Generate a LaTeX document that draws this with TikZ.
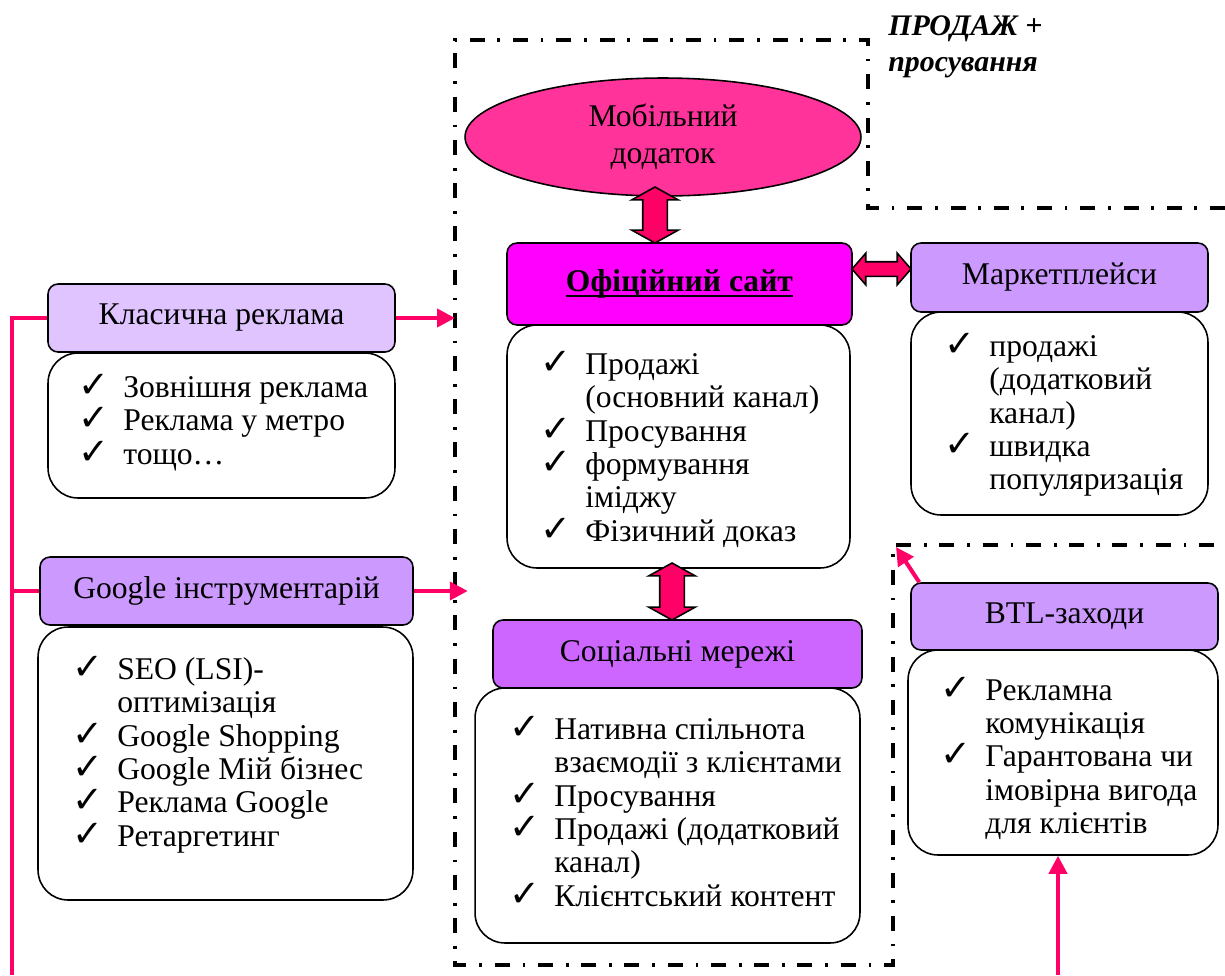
\documentclass[tikz,border=0pt]{standalone}
\usepackage{fontspec}
\setmainfont{Liberation Serif}
\newfontfamily\symf{DejaVu Sans}
\usetikzlibrary{arrows.meta,shapes.geometric,shapes.arrows}

\definecolor{clsFill}{RGB}{224,196,255}
\definecolor{lilacFill}{RGB}{204,153,255}
\definecolor{socFill}{RGB}{204,102,255}
\definecolor{siteFill}{RGB}{255,0,255}
\definecolor{appFill}{RGB}{255,51,153}
\definecolor{linkPink}{RGB}{255,0,102}

\newcommand{\ck}{\smash{\symf\fontsize{21}{21}\selectfont ✓}}
\newcommand{\itm}[1]{\makebox[0.9cm][l]{\ck}#1}
\newcommand{\nxt}[1]{\hspace*{0.9cm}#1}
\newsavebox{\ulbox}
\newcommand{\thickul}[1]{\sbox{\ulbox}{#1}\rlap{\rule[-3.2pt]{\wd\ulbox}{1.3pt}}\usebox{\ulbox}}

\tikzset{
  hdr/.style={draw, line width=0.9pt, rounded corners=0.2cm, inner sep=0pt,
    font=\fontsize{18}{21}\selectfont},
  body/.style={draw, fill=white, line width=0.9pt, rounded corners=0.6cm, inner sep=0pt},
  lst/.style={anchor=north west, align=left, inner sep=0pt, font=\fontsize{18}{19}\selectfont},
  link/.style={draw=linkPink, line width=2.3pt, -{Triangle[length=0.36cm,width=0.36cm]}},
  bus/.style={draw=linkPink, line width=2.3pt},
  fatarrow/.style={double arrow, draw, line width=0.9pt, fill=linkPink, inner xsep=0pt},
  zone/.style={line width=2pt, dash pattern=on 0.3cm off 0.26cm on 0.055cm off 0.25cm}
}

\begin{document}
\begin{tikzpicture}[x=0.02cm, y=-0.02cm]
    \useasboundingbox (0,0) rectangle (1225,975);

    % dash-dot zones
    \draw[zone] (1225,208) -- (868,208) -- (868,40) -- (455,40) -- (455,965)
      -- (893,965) -- (893,545) -- (1225,545);
    \node[anchor=north west, align=left, inner sep=0pt,
      font=\bfseries\itshape\fontsize{17}{20.5}\selectfont] (zoneLbl) at (888,15)
      {ПРОДАЖ +\\просування};

    % centre column
    \node[ellipse, draw, line width=0.9pt, fill=appFill, inner sep=0pt,
      minimum width=7.92cm, minimum height=2.36cm, align=center,
      font=\fontsize{18}{21}\selectfont] (app) at (663,137) {Мобільний\\додаток};

    \node[body, minimum width=6.86cm, minimum height=4.86cm] (siteBody) at (678.5,446.5) {};
    \node[hdr, fill=siteFill, minimum width=6.9cm, minimum height=1.64cm] (site) at (679.5,284)
      {\bfseries\thickul{Офіційний сайт}};
    \node[lst] (siteList) at (540,353)
      {\itm{Продажі}\\ \nxt{(основний канал)}\\ \itm{Просування}\\ \itm{формування}\\
       \nxt{іміджу}\\ \itm{Фізичний доказ}};

    \node[body, minimum width=7.7cm, minimum height=5.1cm] (socBody) at (667.5,815.5) {};
    \node[hdr, fill=socFill, minimum width=7.38cm, minimum height=1.36cm] (soc) at (677.5,654)
      {Соціальні мережі};
    \node[lst] (socList) at (509,718)
      {\itm{Нативна спільнота}\\ \nxt{взаємодії з клієнтами}\\ \itm{Просування}\\
       \itm{Продажі (додатковий}\\ \nxt{канал)}\\ \itm{Клієнтський контент}};

    % left column
    \node[body, minimum width=6.94cm, minimum height=2.9cm] (clsBody) at (221.5,425.5) {};
    \node[hdr, fill=clsFill, minimum width=6.94cm, minimum height=1.36cm] (cls) at (221.5,318)
      {Класична реклама};
    \node[lst] (clsList) at (78,376)
      {\itm{Зовнішня реклама}\\ \itm{Реклама у метро}\\ \itm{тощо…}};

    \node[body, minimum width=7.5cm, minimum height=5.46cm] (googBody) at (225.5,763.5) {};
    \node[hdr, fill=lilacFill, minimum width=7.46cm, minimum height=1.36cm] (goog) at (226.5,591)
      {Google інструментарій};
    \node[lst] (googList) at (72,657)
      {\itm{SEO (LSI)-}\\ \nxt{оптимізація}\\ \itm{Google Shopping}\\ \itm{Google Мій бізнес}\\
       \itm{Реклама Google}\\ \itm{Ретаргетинг}};

    % right column
    \node[body, minimum width=5.94cm, minimum height=4.06cm] (mktBody) at (1059.5,413.5) {};
    \node[hdr, fill=lilacFill, minimum width=5.94cm, minimum height=1.38cm] (mkt) at (1059.5,277.5)
      {Маркетплейси};
    \node[lst] (mktList) at (944,335)
      {\itm{продажі}\\ \nxt{(додатковий}\\ \nxt{канал)}\\ \itm{швидка}\\ \nxt{популяризація}};

    \node[body, minimum width=6.2cm, minimum height=4.1cm] (btlBody) at (1063,752.5) {};
    \node[hdr, fill=lilacFill, minimum width=6.14cm, minimum height=1.34cm] (btl) at (1064.5,616.5)
      {BTL-заходи};
    \node[lst] (btlList) at (940,679)
      {\itm{Рекламна}\\ \nxt{комунікація}\\ \itm{Гарантована чи}\\ \nxt{імовірна вигода}\\
       \nxt{для клієнтів}};

    % fat two-way arrows
    \node[fatarrow, rotate=90, minimum height=1.12cm, inner ysep=0.23cm,
      double arrow head extend=0.22cm, double arrow tip angle=122] (appSite) at (655,215) {};
    \node[fatarrow, rotate=90, minimum height=1.14cm, inner ysep=0.23cm,
      double arrow head extend=0.22cm, double arrow tip angle=122] (siteSoc) at (672,591.5) {};
    \node[fatarrow, minimum height=1.18cm, inner ysep=0.13cm,
      double arrow head extend=0.17cm, double arrow tip angle=98] (siteMkt) at (881.5,269) {};

    % pink links
    \coordinate (zoneL) at (455,0);
    \coordinate (busEnd) at (12,975);
    \coordinate (btlCorner) at (896,547);
    \coordinate (btlFeed) at (1058,975);

    \draw[bus] (cls.west) -| (busEnd);
    \draw[bus] (goog.west) -- (goog.west -| busEnd);
    \draw[link] (cls.east) -- (cls.east -| zoneL);
    \draw[link] (goog.east) -- ++(54,0);
    \draw[link] ([xshift=0.18cm]btl.north west) -- (btlCorner);
    \draw[link] (btlFeed) -- (btlFeed |- btlBody.south);
\end{tikzpicture}
\end{document}
